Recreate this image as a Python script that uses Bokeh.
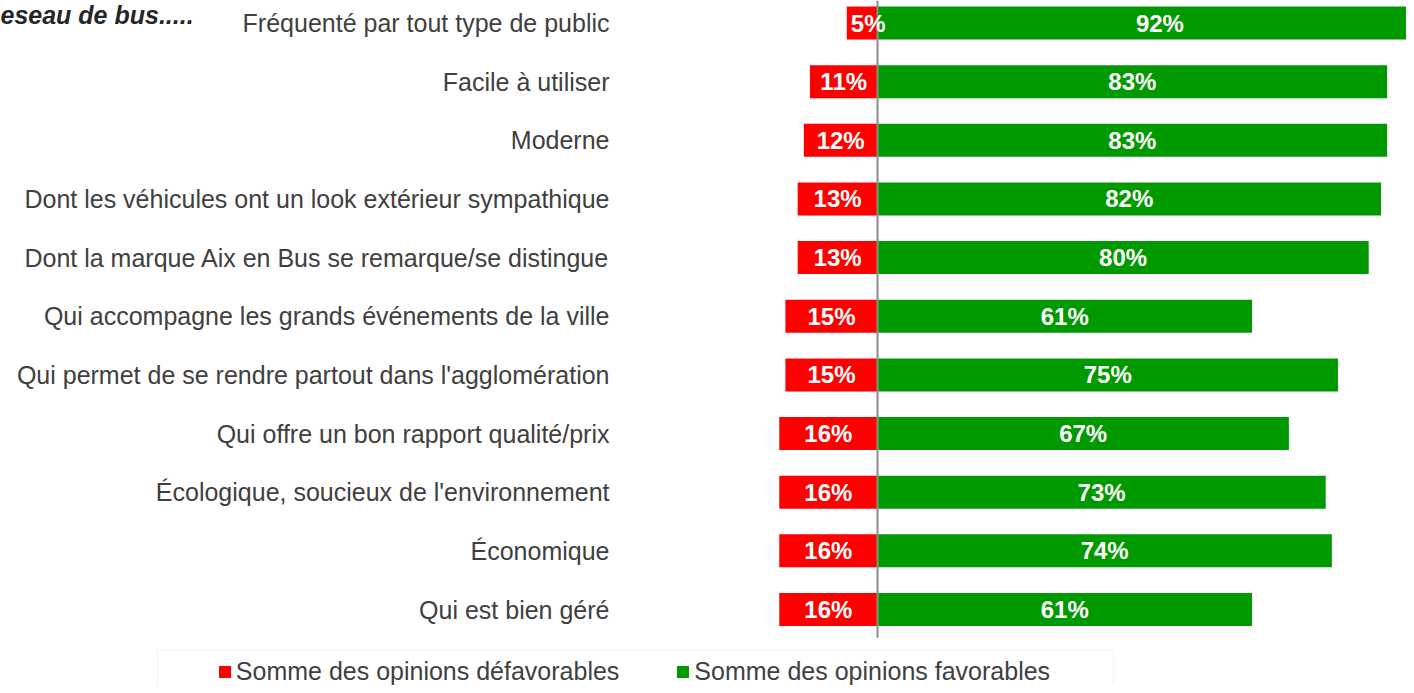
from bokeh.plotting import figure
from bokeh.models import Range1d, ColumnDataSource, Legend, LegendItem, Label, BoxAnnotation
from bokeh.core.properties import value
from bokeh.embed import file_html
from bokeh.resources import INLINE

categories = [
    "Fréquenté par tout type de public",
    "Facile à utiliser",
    "Moderne",
    "Dont les véhicules ont un look extérieur sympathique",
    "Dont la marque Aix en Bus se remarque/se distingue",
    "Qui accompagne les grands événements de la ville",
    "Qui permet de se rendre partout dans l'agglomération",
    "Qui offre un bon rapport qualité/prix",
    "Écologique, soucieux de l'environnement",
    "Économique",
    "Qui est bien géré",
]
defavorables = [5, 11, 12, 13, 13, 15, 15, 16, 16, 16, 16]
favorables = [92, 83, 83, 82, 80, 61, 75, 67, 73, 74, 61]
series_names = ["Somme des opinions défavorables", "Somme des opinions favorables"]
title_text = "eseau de bus....."

RED = "#ff0000"
GREEN = "#009900"
TXT = "#404040"
FONT = "Liberation Sans"

n = len(categories)
idx = list(range(n))

# layout geometry (pixels)
W, H = 1406, 685
zero_px = 877
px_per_pct = 6.14
row_px = 58.65
first_row_px = 22.5
lbl_size = 24

x_range = Range1d(start=-zero_px / px_per_pct, end=(W - zero_px) / px_per_pct)
y_range = Range1d(start=(H - first_row_px) / row_px, end=-first_row_px / row_px)


def label_width_px(s):
    # approximate width of a bold Arial-like label
    return sum(0.889 if ch == "%" else 0.556 for ch in s) * lbl_size


neg_lbl = [f"{v}%" for v in defavorables]
neg_mid = []
for v, s in zip(defavorables, neg_lbl):
    w = label_width_px(s)
    if w <= v * px_per_pct:
        neg_mid.append(-v / 2)
    else:
        neg_mid.append(-v + (4 + w / 2) / px_per_pct)

src = ColumnDataSource(dict(
    y=idx,
    cat=categories,
    neg=[-v for v in defavorables],
    pos=favorables,
    neg_mid=neg_mid,
    pos_mid=[v / 2 for v in favorables],
    neg_lbl=neg_lbl,
    pos_lbl=[f"{v}%" for v in favorables],
))

p = figure(width=W, height=H, x_range=x_range, y_range=y_range,
           output_backend="svg", toolbar_location=None,
           x_axis_type=None, y_axis_type=None, min_border=0,
           outline_line_color=None, background_fill_color="white",
           border_fill_color="white")

bar_h = 33 / row_px
r_neg = p.hbar(y="y", left="neg", right=0, height=bar_h, source=src,
               fill_color=RED, line_color=None)
r_pos = p.hbar(y="y", left=0, right="pos", height=bar_h, source=src,
               fill_color=GREEN, line_color=None)

# zero line
p.segment(x0=[0], y0=[y_range.end], x1=[0], y1=[n - 1 + 0.48],
          line_color="#8c8c8c", line_width=2)

# value labels
p.text(x="neg_mid", y="y", text="neg_lbl", source=src, text_align="center",
       text_baseline="middle", text_color="white", text_font=value(FONT),
       text_font_size=f"{lbl_size}px", text_font_style="bold")
p.text(x="pos_mid", y="y", text="pos_lbl", source=src, text_align="center",
       text_baseline="middle", text_color="white", text_font=value(FONT),
       text_font_size=f"{lbl_size}px", text_font_style="bold")

# category labels
p.text(x=0, y="y", text="cat", source=src, x_offset=-268, text_align="right",
       text_baseline="middle", text_color=TXT, text_font=value(FONT),
       text_font_size="25px")

# title fragment
p.add_layout(Label(x=0, y=H, x_units="screen", y_units="screen", text=title_text,
                   text_align="left", text_baseline="top", text_color="#262626",
                   text_font=FONT, text_font_size="25px",
                   text_font_style="bold italic"))

# legend frame
p.add_layout(BoxAnnotation(left=157, right=1113, top=H - 649.5, bottom=-10,
                           left_units="screen", right_units="screen",
                           top_units="screen", bottom_units="screen",
                           fill_alpha=0, line_color="#d0d0d0", line_width=1))

legend = Legend(items=[LegendItem(label=series_names[0], renderers=[r_neg]),
                       LegendItem(label=series_names[1], renderers=[r_pos])],
                orientation="horizontal", location=(216.8, -1.5),
                glyph_width=15, glyph_height=15, label_standoff=4, spacing=56,
                padding=0, margin=0, border_line_color=None,
                background_fill_alpha=0, label_text_font=FONT,
                label_text_font_size="25px", label_text_color=TXT,
                label_height=30)
p.add_layout(legend)

open("out.html", "w").write(file_html(p, INLINE))
